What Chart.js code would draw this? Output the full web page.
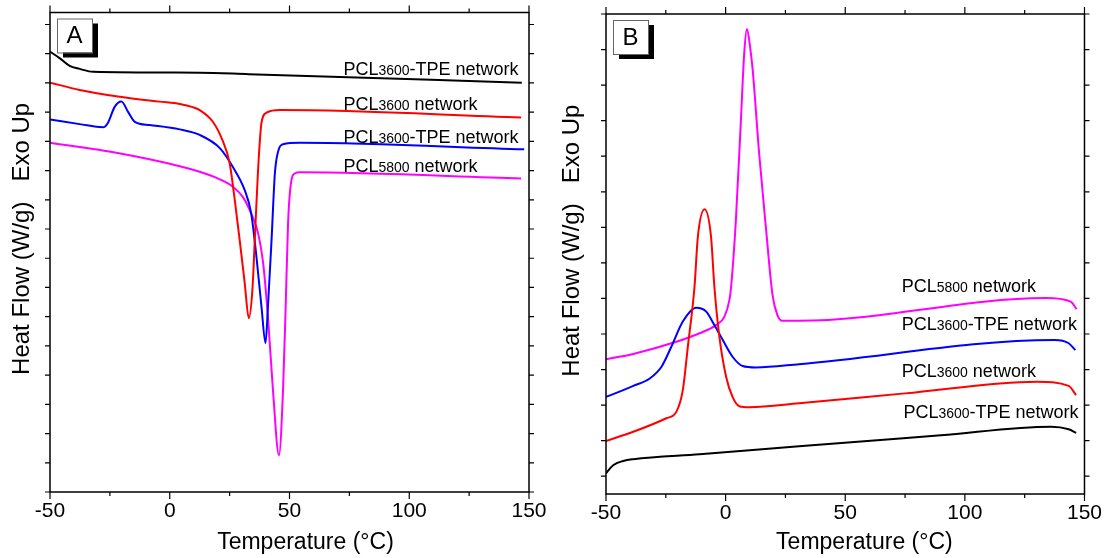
<!DOCTYPE html>
<html>
<head>
<meta charset="utf-8">
<script src="https://cdn.jsdelivr.net/npm/chart.js@4"></script>
<style>
  html, body { margin: 0; padding: 0; background: #fff; }
  #wrap { position: relative; width: 1109px; height: 558px; }
  canvas { position: absolute; top: 0; }
</style>
</head>
<body>
<div id="wrap">
  <canvas id="chartA" width="555" height="558" style="left:0"></canvas>
  <canvas id="chartB" width="554" height="558" style="left:555px"></canvas>
</div>
<script>
const FONT = "'Liberation Sans', Arial, sans-serif";

const xMajor = [-50, 0, 50, 100, 150];
const xMinor = [-25, 25, 75, 125];
const seriesNames = ['PCL3600-TPE network', 'PCL3600 network', 'PCL3600-TPE network', 'PCL5800 network'];
const seriesColors = ['#000000', '#ff0000', '#0000ff', '#ff00ff'];

// panel A - heating scans (arbitrary heat flow units, exo up)
const aBlackT = [-50, -46, -41.8, -37.6, -32, 12.5, 33, 147];
const aBlackH = [15.07, 14.85, 14.58, 14.48, 14.38, 14.35, 14.30, 14.01];

const aRedT = [-50, -37.6, -20.9, -4.2, 4.2, 9.6, 12.5, 18, 22, 25, 27, 29.2, 31.3, 33, 34.5, 35.5, 36.8, 38.3, 40.4, 46, 146.7];
const aRedH = [14.01, 13.76, 13.53, 13.36, 13.28, 13.17, 13.07, 12.67, 12.04, 11.26, 10.09, 8.62, 7.15, 5.95, 6.91, 8.62, 10.91, 12.63, 12.98, 13.07, 12.82];

const aBlueT = [-50, -37.6, -27.9, -25.9, -23, -20.2, -17.4, -14.6, -8.4, 4.2, 12.5, 20.9, 26.3, 31.3, 34, 36.2, 38.3, 40, 41, 42.5, 43.9, 45.2, 47.3, 54.3, 148];
const aBlueH = [12.75, 12.59, 12.48, 12.62, 13.18, 13.36, 13.01, 12.67, 12.56, 12.41, 12.22, 11.77, 11.13, 10.33, 9.54, 8.05, 6.34, 5.10, 6.34, 8.62, 10.91, 11.64, 11.90, 11.95, 11.73];

const aPinkT = [-50, -21.8, 4.2, 12.5, 20.9, 26.3, 30.5, 34, 36.9, 39, 41, 43.1, 45.6, 47.3, 48.4, 49.4, 50.8, 52.2, 54.3, 146.7];
const aPinkH = [11.95, 11.6, 11.15, 10.96, 10.70, 10.45, 10.10, 9.53, 8.86, 7.83, 5.99, 3.48, 1.26, 3.48, 6.34, 9.20, 10.67, 10.90, 10.94, 10.73];

// panel B - cooling scans
const bBlackT = [-50, -47, -42.8, -38.6, -10.9, 30.7, 90, 136, 143.4, 146.5];
const bBlackH = [0.08, 0.31, 0.43, 0.48, 0.62, 0.84, 1.15, 1.39, 1.32, 1.22];

const bRedT = [-50, -38.6, -24.8, -20.6, -17.9, -15.8, -13, -11.6, -8.8, -6.1, -4.7, -2.6, 0.2, 2.9, 5.7, 9.9, 30.7, 75, 130, 143.4, 146.5];
const bRedH = [0.99, 1.25, 1.63, 1.81, 2.42, 3.64, 5.33, 6.74, 7.51, 6.74, 5.33, 3.92, 2.80, 2.23, 1.97, 1.94, 2.05, 2.33, 2.66, 2.54, 2.28];

const bBlueT = [-50, -38.6, -31.7, -26.8, -22.7, -17.9, -12.3, -8.1, -4.7, -1.2, 2.9, 7.1, 12.7, 30.7, 137.5, 143.4, 146.2];
const bBlueH = [2.23, 2.54, 2.75, 3.08, 3.64, 4.35, 4.74, 4.63, 4.25, 3.83, 3.36, 3.10, 3.06, 3.15, 3.83, 3.74, 3.55];

const bPinkT = [-50, -38.6, -20.6, -10.9, -4, -0.5, 1.6, 2.3, 4.3, 6.4, 7.8, 8.9, 10.2, 11.3, 14, 16.8, 19.6, 21.6, 23.7, 30.7, 133.8, 144.2, 146.7];
const bPinkH = [3.29, 3.44, 3.78, 4.02, 4.25, 4.49, 4.96, 5.33, 7.21, 10.03, 11.92, 12.58, 12.09, 11.44, 9.09, 7.02, 5.1, 4.54, 4.37, 4.37, 5.01, 4.91, 4.70];

// where the curve names sit, in data units (temperature, heat flow)
const namePosA = [[72.5, 14.27], [72.5, 13.07], [72.5, 11.95], [72.5, 10.96]];
const namePosB = [[74.3, 1.63], [73.6, 2.80], [73.6, 4.11], [73.6, 5.19]];

function pairs(t, h) {
  return t.map((v, i) => ({ x: v, y: h[i] }));
}

function makeSets(list) {
  return list.map((s, i) => ({
    data: pairs(s[0], s[1]),
    borderColor: seriesColors[i],
    borderWidth: 2,
    pointRadius: 0,
    fill: false,
    cubicInterpolationMode: 'monotone'
  }));
}

const decor = {
  id: 'decor',
  afterDraw(chart, args, opts) {
    const { ctx, chartArea: a, scales: { x, y } } = chart;
    ctx.save();
    ctx.strokeStyle = '#000';
    ctx.lineWidth = 1.5;
    ctx.strokeRect(a.left, a.top, a.right - a.left, a.bottom - a.top);

    ctx.lineWidth = 1.2;
    ctx.beginPath();
    const tx = (v, len) => {
      const p = x.getPixelForValue(v);
      ctx.moveTo(p, a.bottom); ctx.lineTo(p, a.bottom + len);
      ctx.moveTo(p, a.top); ctx.lineTo(p, a.top - len);
    };
    xMajor.forEach(v => tx(v, 7));
    xMinor.forEach(v => tx(v, 4));
    for (let v = Math.ceil(y.min); v <= y.max + 0.001; v++) {
      const p = y.getPixelForValue(v);
      ctx.moveTo(a.left, p); ctx.lineTo(a.left - 5, p);
      ctx.moveTo(a.right, p); ctx.lineTo(a.right + 5, p);
    }
    ctx.stroke();

    // panel letter box with drop shadow
    const bx = a.left + 7, by = a.top + 6, bw = 35, bh = 34;
    ctx.fillStyle = '#000';
    ctx.fillRect(bx + 6, by + 5, bw, bh);
    ctx.fillStyle = '#fff';
    ctx.fillRect(bx, by, bw, bh);
    ctx.strokeStyle = '#666';
    ctx.lineWidth = 1;
    ctx.strokeRect(bx + 0.5, by + 0.5, bw, bh);
    ctx.fillStyle = '#000';
    ctx.font = '24px ' + FONT;
    ctx.textAlign = 'center';
    ctx.textBaseline = 'middle';
    ctx.fillText(opts.letter, bx + bw / 2, by + bh / 2 + 1);

    // curve names, digits in a smaller size
    ctx.textAlign = 'left';
    ctx.textBaseline = 'alphabetic';
    opts.names.forEach((pos, i) => {
      const m = seriesNames[i].match(/^(\D+)(\d+)(.*)$/);
      let px = x.getPixelForValue(pos[0]);
      const py = y.getPixelForValue(pos[1]);
      ctx.font = '18px ' + FONT;
      ctx.fillText(m[1], px, py);
      px += ctx.measureText(m[1]).width;
      ctx.font = '14px ' + FONT;
      ctx.fillText(m[2], px, py);
      px += ctx.measureText(m[2]).width;
      ctx.font = '18px ' + FONT;
      ctx.fillText(m[3], px, py);
    });
    ctx.restore();
  }
};

function makeChart(id, sets, cfg) {
  return new Chart(document.getElementById(id), {
    type: 'line',
    data: { datasets: makeSets(sets) },
    options: {
      responsive: false,
      animation: false,
      layout: { padding: { left: 0, right: cfg.padRight, top: cfg.padTop, bottom: 0 } },
      plugins: {
        legend: { display: false },
        tooltip: { enabled: false },
        decor: { letter: cfg.letter, names: cfg.names }
      },
      scales: {
        x: {
          type: 'linear',
          min: -50,
          max: 150,
          afterFit: s => { s.height = cfg.xHeight; },
          border: { display: false },
          grid: { display: false, drawTicks: false },
          ticks: {
            stepSize: 50,
            padding: 7,
            color: '#000',
            font: { family: FONT, size: 21 }
          },
          title: {
            display: true,
            text: cfg.xTitle,
            color: '#000',
            padding: { top: 0, bottom: 2 },
            font: { family: FONT, size: 23 }
          }
        },
        y: {
          type: 'linear',
          min: cfg.yMin,
          max: cfg.yMax,
          afterFit: s => { s.width = cfg.yWidth; },
          border: { display: false },
          grid: { display: false, drawTicks: false },
          ticks: { display: false, stepSize: 1 },
          title: {
            display: true,
            text: '    Heat Flow (W/g)   Exo Up',
            color: '#000',
            padding: { top: cfg.yTitlePad, bottom: 0 },
            font: { family: FONT, size: 24 }
          }
        }
      }
    },
    plugins: [decor]
  });
}

makeChart('chartA',
  [[aBlackT, aBlackH], [aRedT, aRedH], [aBlueT, aBlueH], [aPinkT, aPinkH]],
  { letter: 'A', names: namePosA, yMin: 0, yMax: 16.41, yWidth: 50, xHeight: 66,
    padRight: 26, padTop: 12.5, yTitlePad: 8, xTitle: '     Temperature (\u00B0C)' });

makeChart('chartB',
  [[bBlackT, bBlackH], [bRedT, bRedH], [bBlueT, bBlueH], [bPinkT, bPinkH]],
  { letter: 'B', names: namePosB, yMin: -0.5, yMax: 13.0, yWidth: 51, xHeight: 64,
    padRight: 22, padTop: 14, yTitlePad: 3, xTitle: '      Temperature (\u00B0C)' });
</script>
</body>
</html>
